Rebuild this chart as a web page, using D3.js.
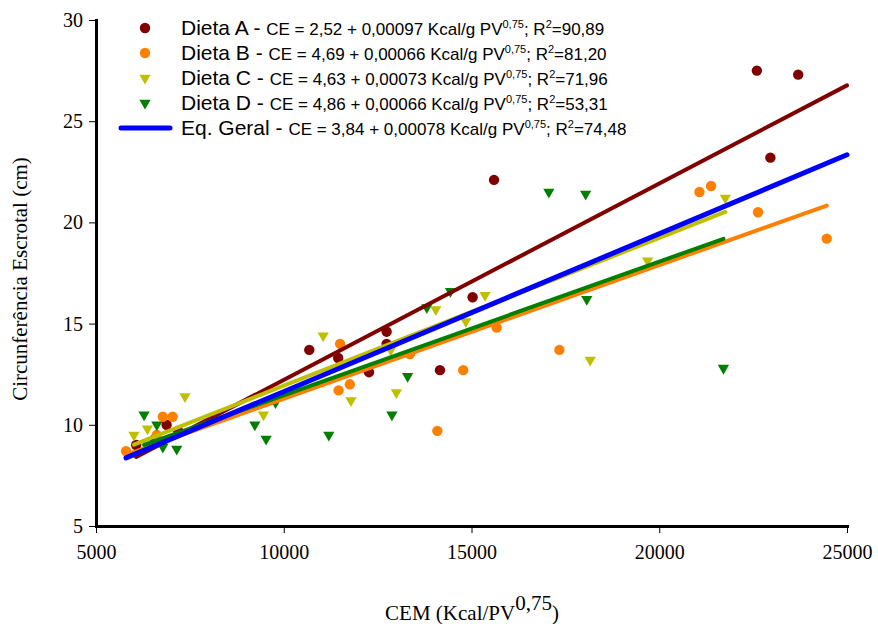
<!DOCTYPE html>
<html>
<head>
<meta charset="utf-8">
<script src="https://cdn.jsdelivr.net/npm/d3@7"></script>
<style>
  body { margin: 0; background: #fff; }
  svg { display: block; }
</style>
</head>
<body>
<svg id="chart" width="878" height="624"></svg>
<script>
// Energy intake (CEM, Kcal/PV^0.75) vs. scrotal circumference (cm) per diet
const dietaAx = [6070, 6570, 6880, 7190, 10680, 11450, 12740, 12740, 12270, 14160, 15030, 15600, 22600, 23700, 22960];
const dietaAy = [9.0, 9.3, 10.0, 9.7, 13.7, 13.3, 14.6, 14.0, 12.6, 12.7, 16.3, 22.1, 27.5, 27.3, 23.2];

const dietaBx = [5800, 6620, 6780, 7040, 11500, 11460, 11760, 13360, 14090, 14780, 15670, 17340, 21070, 21380, 22630, 24460];
const dietaBy = [8.7, 9.5, 10.4, 10.4, 14.0, 11.7, 12.0, 13.5, 9.7, 12.7, 14.8, 13.7, 21.5, 21.8, 20.5, 19.2];

const dietaCx = [6010, 6370, 7370, 9460, 11050, 11790, 12850, 13000, 14050, 14850, 15360, 18160, 19690, 21760];
const dietaCy = [9.5, 9.8, 11.4, 10.5, 14.4, 11.2, 13.7, 11.6, 15.7, 15.1, 16.4, 13.2, 18.1, 21.2];

const dietaDx = [6280, 6620, 6780, 7150, 9230, 9530, 9780, 11200, 12880, 13300, 13810, 14440, 17060, 18040, 18070, 21710];
const dietaDy = [10.5, 10.0, 8.9, 8.8, 10.0, 9.3, 11.1, 9.5, 10.5, 12.4, 15.8, 16.6, 21.5, 21.4, 16.2, 12.8];

// Regression lines: CE = a + b * CEM, drawn over [from, to]
const lineNames = ["Dieta A", "Dieta B", "Dieta C", "Dieta D", "Eq. Geral"];
const intercepts = [2.52, 4.69, 4.63, 4.86, 3.84];
const slopes = [0.00097, 0.00066, 0.00073, 0.00066, 0.00078];
const lineFrom = [6070, 5800, 6010, 6280, 5800];
const lineTo = [25000, 24460, 21760, 21710, 25000];
const r2Labels = ["90,89", "81,20", "71,96", "53,31", "74,48"];
const interceptLabels = ["2,52", "4,69", "4,63", "4,86", "3,84"];
const slopeLabels = ["0,00097", "0,00066", "0,00073", "0,00066", "0,00078"];

const xTicks = [5000, 10000, 15000, 20000, 25000];
const yTicks = [5, 10, 15, 20, 25, 30];

const colors = ["#800000", "#FF8000", "#BFBF00", "#008000", "#0000FF"];
const shapes = ["circle", "circle", "triangle", "triangle", "line"];

const series = [
  { xs: dietaAx, ys: dietaAy },
  { xs: dietaBx, ys: dietaBy },
  { xs: dietaCx, ys: dietaCy },
  { xs: dietaDx, ys: dietaDy }
];

const svg = d3.select("#chart");
const margin = { left: 96, top: 20, right: 31, bottom: 98 };
const W = 878, H = 624;

const x = d3.scaleLinear().domain([5000, 25000]).range([margin.left, W - margin.right]);
const y = d3.scaleLinear().domain([5, 30]).range([H - margin.bottom, margin.top]);

const serif = "'Liberation Serif', 'Times New Roman', serif";
const sans = "'Liberation Sans', Arial, sans-serif";

const triangle = d3.symbol().type(d3.symbolTriangle).size(55);

function drawMarker(g, shape, color, cx, cy) {
  if (shape === "circle") {
    g.append("circle").attr("cx", cx).attr("cy", cy).attr("r", 5.2).attr("fill", color);
  } else {
    g.append("path").attr("d", triangle())
      .attr("transform", `translate(${cx},${cy}) rotate(180)`)
      .attr("fill", color);
  }
}

// Data points
const pts = svg.append("g");
series.forEach((s, i) => {
  s.xs.forEach((xv, j) => drawMarker(pts, shapes[i], colors[i], x(xv), y(s.ys[j])));
});

// Trend lines
const lineGen = d3.line().x(d => x(d[0])).y(d => y(d[1]));
const lines = svg.append("g");
lineNames.forEach((n, i) => {
  const pts2 = [lineFrom[i], lineTo[i]].map(v => [v, intercepts[i] + slopes[i] * v]);
  lines.append("path").attr("d", lineGen(pts2))
    .attr("fill", "none").attr("stroke", colors[i])
    .attr("stroke-width", i === 4 ? 5 : 4).attr("stroke-linecap", "round");
});

// Axes
const xAxis = d3.axisBottom(x).tickValues(xTicks).tickFormat(d3.format("d")).tickSize(7).tickSizeOuter(0).tickPadding(12);
const yAxis = d3.axisLeft(y).tickValues(yTicks).tickFormat(d3.format("d")).tickSize(7).tickSizeOuter(0).tickPadding(6);

const gx = svg.append("g").attr("transform", `translate(0,${y(5)})`).call(xAxis);
const gy = svg.append("g").attr("transform", `translate(${x(5000)},0)`).call(yAxis);
[gx, gy].forEach(g => {
  g.select(".domain").attr("stroke", "#000").attr("stroke-width", 3).attr("stroke-linecap", "square");
  g.selectAll(".tick line").attr("stroke", "#000").attr("stroke-width", 1);
  g.selectAll(".tick text").attr("fill", "#000").style("font-family", serif).style("font-size", "20px");
});

// Axis titles
svg.append("text")
  .attr("transform", `translate(27,${(y(5) + y(30)) / 2 + 6}) rotate(-90)`)
  .attr("text-anchor", "middle")
  .style("font-family", serif).style("font-size", "21px")
  .text("Circunferência Escrotal (cm)");

const xt = svg.append("text")
  .attr("x", 472).attr("y", 620)
  .attr("text-anchor", "middle")
  .style("font-family", serif).style("font-size", "21px");
xt.append("tspan").text("CEM (Kcal/PV");
xt.append("tspan").attr("dy", -10).text("0,75");
xt.append("tspan").attr("dy", 10).text(")");

// Legend
const legend = svg.append("g");
const rowY = [28, 53, 78, 103, 128];
lineNames.forEach((n, i) => {
  const cy = rowY[i];
  if (shapes[i] === "line") {
    legend.append("line").attr("x1", 121).attr("x2", 170).attr("y1", cy).attr("y2", cy)
      .attr("stroke", colors[i]).attr("stroke-width", 5).attr("stroke-linecap", "round");
  } else {
    drawMarker(legend, shapes[i], colors[i], 145, cy);
  }
  const t = legend.append("text").attr("x", 181).attr("y", cy + 7)
    .style("font-family", sans).style("font-size", "21px").attr("fill", "#000");
  t.append("tspan").text(n + " - ");
  t.append("tspan").style("font-size", "17px")
    .text(`CE = ${interceptLabels[i]} + ${slopeLabels[i]} Kcal/g PV`);
  t.append("tspan").style("font-size", "11px").attr("dy", -7).text("0,75");
  t.append("tspan").style("font-size", "17px").attr("dy", 7).text("; R");
  t.append("tspan").style("font-size", "11px").attr("dy", -7).text("2");
  t.append("tspan").style("font-size", "17px").attr("dy", 7).text("=" + r2Labels[i]);
});
</script>
</body>
</html>
